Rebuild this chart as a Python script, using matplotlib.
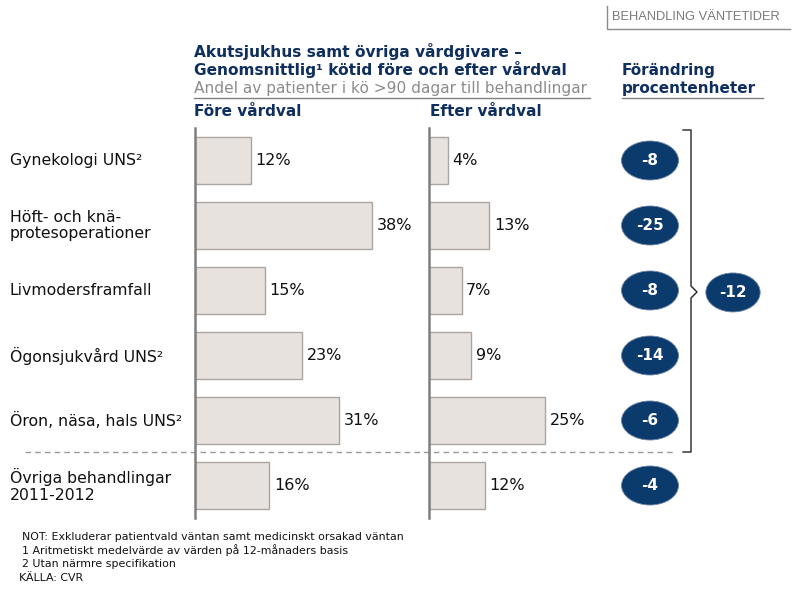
import matplotlib.pyplot as plt
from matplotlib.patches import Ellipse
import numpy as np

CATEGORIES = [
    "Gynekologi UNS²",
    "Höft- och knä-\nprotesoperationer",
    "Livmodersframfall",
    "Ögonsjukvård UNS²",
    "Öron, näsa, hals UNS²",
    "Övriga behandlingar\n2011-2012",
]
BEFORE = [12, 38, 15, 23, 31, 16]
AFTER = [4, 13, 7, 9, 25, 12]
CHANGE = [-8, -25, -8, -14, -6, -4]
CHANGE_TOTAL = -12

NAVY = "#0f2f5f"
BUBBLE = "#0b3a6c"
BAR_FILL = "#e8e2de"
BAR_EDGE = "#aaa5a1"
AXIS_GREY = "#7f7f7f"

W, H = 793, 593
plt.rcParams["font.family"] = "DejaVu Sans"

fig = plt.figure(figsize=(W / 100, H / 100), dpi=100)


def px_axes(x0, y0, x1, y1, **kw):
    # axes placed in pixel coordinates (origin top-left)
    return fig.add_axes([x0 / W, 1 - y1 / H, (x1 - x0) / W, (y1 - y0) / H], **kw)


# overlay for free text and lines
ov = px_axes(0, 0, W, H)
ov.set_xlim(0, W)
ov.set_ylim(H, 0)
ov.axis("off")

PX_PER_PCT = 4.65
Y_TOP, Y_BOT = 128, 518
y = np.arange(len(CATEGORIES))


def bar_panel(x0, values, width=225):
    ax = px_axes(x0, Y_TOP, x0 + width, Y_BOT)
    ax.barh(y, values, height=0.72, color=BAR_FILL, edgecolor=BAR_EDGE, linewidth=1.0)
    ax.set_xlim(0, width / PX_PER_PCT)
    ax.set_ylim(len(CATEGORIES) - 0.5, -0.5)
    for s in ["top", "right", "bottom"]:
        ax.spines[s].set_visible(False)
    ax.spines["left"].set_color(AXIS_GREY)
    ax.spines["left"].set_linewidth(1.8)
    ax.set_xticks([])
    ax.set_yticks([])
    ax.patch.set_alpha(0)
    for yi, v in zip(y, values):
        ax.text(v + 1.0, yi, f"{v}%", va="center", ha="left", fontsize=11.5,
                color="#111111", clip_on=False)
    return ax


ax_before = bar_panel(195, BEFORE)
ax_after = bar_panel(429, AFTER, width=170)

# category labels
for yi, label in zip(y, CATEGORIES):
    ax_before.text(-39.8, yi, label, va="center", ha="left", fontsize=11.3,
                   color="#111111", linespacing=1.15)

# change bubbles
ax_chg = px_axes(620, Y_TOP, 680, Y_BOT)
ax_chg.set_xlim(0, 1)
ax_chg.set_ylim(len(CATEGORIES) - 0.5, -0.5)
ax_chg.axis("off")
for yi, c in zip(y, CHANGE):
    ax_chg.add_patch(Ellipse((0.5, yi), 0.95, 0.6, color=BUBBLE, ec="#6f86a6", lw=0.6))
    ax_chg.text(0.5, yi, f"{c}", ha="center", va="center", color="white",
                fontsize=11, fontweight="bold")

ax_tot = px_axes(705, Y_TOP, 761, Y_BOT)
ax_tot.set_xlim(0, 1)
ax_tot.set_ylim(len(CATEGORIES) - 0.5, -0.5)
ax_tot.axis("off")
ax_tot.add_patch(Ellipse((0.5, 2.03), 0.97, 0.6, color=BUBBLE, ec="#6f86a6", lw=0.6))
ax_tot.text(0.5, 2.03, f"{CHANGE_TOTAL}", ha="center", va="center", color="white",
            fontsize=11, fontweight="bold")

# bracket
ov.plot([683, 691, 691, 697, 691, 691, 683], [130, 130, 286, 292, 298, 452, 452],
        color="#222222", lw=1.0)

# dashed separator
ov.plot([25, 673], [452, 452], color="#999999", lw=1.0, ls=(0, (4, 3)))

# header
ov.text(194, 51, "Akutsjukhus samt övriga vårdgivare –", fontsize=11.1,
        fontweight="bold", color=NAVY, va="center")
ov.text(194, 70, "Genomsnittlig¹ kötid före och efter vårdval", fontsize=11.1,
        fontweight="bold", color=NAVY, va="center")
ov.text(194, 89, "Andel av patienter i kö >90 dagar till behandlingar", fontsize=11.1,
        color="#8c8c8c", va="center")
ov.plot([194, 590], [98, 98], color="#808080", lw=1.0)
ov.text(194, 112, "Före vårdval", fontsize=11, fontweight="bold", color=NAVY, va="center")
ov.text(430, 112, "Efter vårdval", fontsize=11, fontweight="bold", color=NAVY, va="center")

ov.text(622, 71, "Förändring", fontsize=11, fontweight="bold", color=NAVY, va="center")
ov.text(622, 89, "procentenheter", fontsize=11, fontweight="bold", color=NAVY, va="center")
ov.plot([622, 763], [98, 98], color="#808080", lw=1.0)

# top-right tag
ov.text(612, 17, "BEHANDLING VÄNTETIDER", fontsize=9.3, color="#7a7a7a", va="center",
        family="Liberation Sans")
ov.plot([607, 607, 790], [6, 29, 29], color="#8a8a8a", lw=1.0)

# footnotes
notes = [
    "NOT: Exkluderar patientvald väntan samt medicinskt orsakad väntan",
    "1 Aritmetiskt medelvärde av värden på 12-månaders basis",
    "2 Utan närmre specifikation",
]
for i, n in enumerate(notes):
    ov.text(22, 537 + i * 13.5, n, fontsize=7.9, color="#111111", va="center")
ov.text(19, 578, "KÄLLA: CVR", fontsize=7.9, color="#111111", va="center")

fig.savefig("out.png", dpi=100)
